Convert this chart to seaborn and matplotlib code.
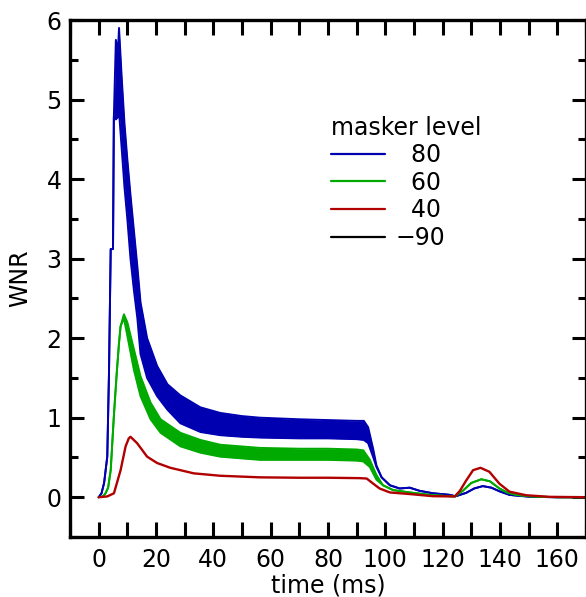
import numpy as np
import pandas as pd
import matplotlib
matplotlib.use("Agg")
import matplotlib.pyplot as plt
from matplotlib.lines import Line2D
from matplotlib.ticker import MultipleLocator
import seaborn as sns

# ---------------- data ----------------
blue_t = [0, 1.0, 1.9, 3.0, 3.6, 4.2, 5.0, 5.3, 6.0, 6.7, 7.1, 8.0, 9.0, 10.0, 11.1, 12.3,
          13.5, 14.6, 16.9, 20.4, 24, 28.5, 35.5, 42.4, 50, 56.3, 70, 80, 90, 92.5, 94.0,
          95.8, 96.9, 98.7, 101.6, 105, 108.5, 112, 116.6, 122.4, 124.5, 128.2, 131, 134,
          137, 139.8, 143.3, 146, 151, 160, 170]
blue_hi = [0, 0.05, 0.18, 0.51, 1.56, 3.12, 3.12, 4.78, 5.75, 5.6, 5.9, 5.3, 4.7, 4.25, 3.8,
           3.35, 2.9, 2.45, 2.0, 1.65, 1.42, 1.28, 1.13, 1.06, 1.02, 1.0, 0.98, 0.97, 0.96,
           0.96, 0.88, 0.6, 0.4, 0.25, 0.15, 0.11, 0.12, 0.08, 0.05, 0.03, 0.012, 0.055,
           0.11, 0.14, 0.12, 0.075, 0.03, 0.02, 0.005, 0.0, 0.0]
blue_lo = [0, 0.05, 0.18, 0.51, 1.56, 3.12, 3.12, 4.78, 4.75, 4.78, 4.85, 4.4, 3.9, 3.5, 3.0,
           2.6, 2.25, 1.8, 1.5, 1.27, 1.1, 0.93, 0.82, 0.78, 0.76, 0.75, 0.74, 0.74, 0.73,
           0.72, 0.68, 0.5, 0.38, 0.25, 0.15, 0.11, 0.12, 0.08, 0.05, 0.03, 0.012, 0.055,
           0.11, 0.14, 0.12, 0.075, 0.03, 0.02, 0.005, 0.0, 0.0]

green_t = [0, 1.5, 2.4, 3.3, 4.2, 5.3, 6.3, 7.1, 7.65, 8.8, 10.0, 12.3, 14.6, 18.1, 21.6, 28.5,
           35.5, 42.4, 56.3, 70, 80, 90, 92.3, 94.6, 96.9, 99.2, 102.7, 108.5, 116.6, 122.4,
           124.2, 127, 130, 133.5, 136.5, 139.8, 142.5, 145.6, 151, 160, 170]
green_hi = [0, 0.01, 0.05, 0.12, 0.34, 1.02, 1.56, 1.94, 2.15, 2.30, 2.2, 1.86, 1.52, 1.19,
            0.98, 0.81, 0.72, 0.66, 0.62, 0.61, 0.61, 0.60, 0.59, 0.47, 0.28, 0.15, 0.09,
            0.06, 0.025, 0.013, 0.01, 0.08, 0.18, 0.226, 0.2, 0.11, 0.06, 0.03, 0.01, 0.0, 0.0]
green_lo = [0, 0.01, 0.05, 0.12, 0.34, 1.02, 1.56, 1.94, 2.15, 2.25, 2.03, 1.6, 1.27, 0.98,
            0.81, 0.64, 0.56, 0.51, 0.47, 0.47, 0.47, 0.46, 0.45, 0.38, 0.22, 0.15, 0.09,
            0.06, 0.025, 0.013, 0.01, 0.08, 0.18, 0.226, 0.2, 0.11, 0.06, 0.03, 0.01, 0.0, 0.0]

red_t = [0, 3, 5.33, 7.65, 9.4, 10.5, 11.1, 13.4, 16.9, 20.4, 25, 33.2, 42.4, 56.3, 70, 80,
         91.1, 93.5, 95.8, 98, 101.6, 108.5, 116.6, 124.2, 126, 128.2, 130.6, 133.2, 136.3,
         139.8, 143.3, 149.1, 157.2, 170]
red_v = [0, 0.01, 0.05, 0.34, 0.64, 0.74, 0.76, 0.68, 0.51, 0.43, 0.37, 0.30, 0.27, 0.25,
         0.245, 0.245, 0.24, 0.235, 0.17, 0.11, 0.06, 0.04, 0.013, 0.01, 0.08, 0.21, 0.34,
         0.37, 0.32, 0.17, 0.07, 0.025, 0.005, 0.0]

legend_labels = ["80", "60", "40", "\u221290"]
legend_title = "masker level"
x_ticks = [0, 20, 40, 60, 80, 100, 120, 140, 160]
y_ticks = [0, 1, 2, 3, 4, 5, 6]

BLUE = "#0000b0"
GREEN = "#00aa00"
RED = "#b00000"
BLACK = "#000000"

# ---------------- plot ----------------
sns.set_theme(style="ticks")
plt.rcParams["font.family"] = ["DejaVu Sans"]
plt.rcParams["text.color"] = "black"
plt.rcParams["axes.labelcolor"] = "black"
plt.rcParams["xtick.color"] = "black"
plt.rcParams["ytick.color"] = "black"

fig = plt.figure(figsize=(5.86, 5.97), dpi=100)
ax = fig.add_axes([70 / 586, 1 - 537 / 597, 1 - 70 / 586, (537 - 20) / 597])

dfb = pd.DataFrame({"t": blue_t, "hi": blue_hi, "lo": blue_lo})
dfg = pd.DataFrame({"t": green_t, "hi": green_hi, "lo": green_lo})
dfr = pd.DataFrame({"t": red_t, "v": red_v})

for df, col in [(dfb, BLUE), (dfg, GREEN)]:
    ax.fill_between(df["t"], df["lo"], df["hi"], color=col, linewidth=0)
    sns.lineplot(data=df, x="t", y="hi", ax=ax, color=col, linewidth=1.4,
                 estimator=None, sort=False)
    sns.lineplot(data=df, x="t", y="lo", ax=ax, color=col, linewidth=1.4,
                 estimator=None, sort=False)
sns.lineplot(data=dfr, x="t", y="v", ax=ax, color=RED, linewidth=1.7,
             estimator=None, sort=False)

ax.set_xlim(-10, 170)
ax.set_ylim(-0.5, 6)
ax.set_xticks(x_ticks)
ax.set_yticks(y_ticks)
ax.xaxis.set_minor_locator(MultipleLocator(10))
ax.yaxis.set_minor_locator(MultipleLocator(0.5))

ax.tick_params(axis="both", which="both", direction="in", top=True, right=True,
               colors="black", labelsize=17, labelcolor="black")
ax.tick_params(axis="x", which="both", length=11, width=2.2, pad=8)
ax.tick_params(axis="y", which="major", length=10, width=2.2, pad=6)
ax.tick_params(axis="y", which="minor", length=5.5, width=2.2)

for s in ax.spines.values():
    s.set_linewidth(2.4)
    s.set_color("black")

ax.set_xlabel("time (ms)", fontsize=17, labelpad=1, color="black")
ax.set_ylabel("WNR", fontsize=17, labelpad=10, color="black")

handles = [Line2D([], [], color=c, linewidth=1.6) for c in [BLUE, GREEN, RED, BLACK]]
labels = ["\u2007" + l if not l.startswith("\u2212") else l for l in legend_labels]
leg = ax.legend(handles, labels, title=legend_title, loc="upper left",
                bbox_to_anchor=(0.505, 0.815), frameon=False, fontsize=17,
                title_fontsize=17, handlelength=2.3, handletextpad=0.45,
                labelspacing=0.15, borderpad=0, borderaxespad=0, alignment="left")
for txt in leg.get_texts():
    txt.set_color("black")
leg.get_title().set_color("black")

fig.savefig("out.png", dpi=100)
